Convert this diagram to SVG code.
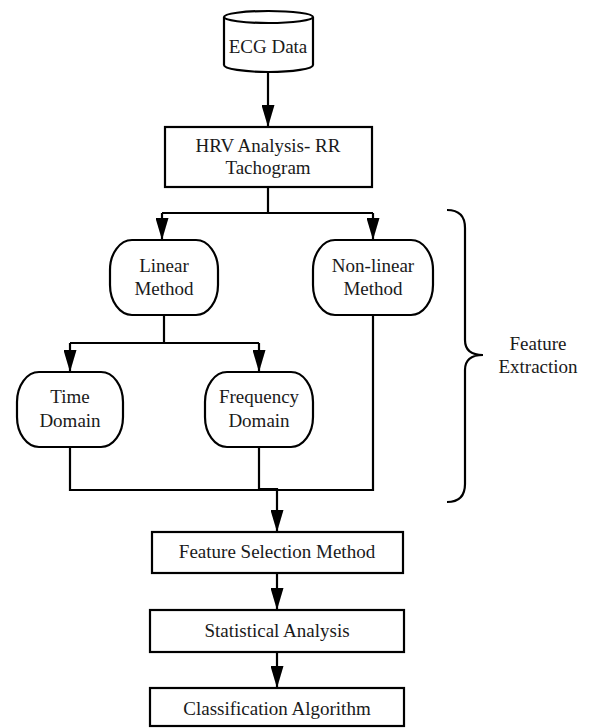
<svg xmlns="http://www.w3.org/2000/svg" width="592" height="728" viewBox="0 0 592 728">
<style>
.s{fill:#fff;stroke:#000;stroke-width:2.2}
.c{fill:none;stroke:#000;stroke-width:2.2}
text{font-family:"Liberation Serif","Times New Roman",serif;font-size:19px;fill:#1a1a1a;text-anchor:middle}
</style>
<defs>
<marker id="a" markerUnits="userSpaceOnUse" markerWidth="22" markerHeight="13" refX="22" refY="6.5" orient="auto" viewBox="0 0 22 13">
<path d="M0,0 L22,6.5 L0,13 Z" fill="#000"/>
</marker>
</defs>
<g id="connectors">
<path class="c" d="M268,72 V127" marker-end="url(#a)"/>
<path class="c" d="M268,187 V213 M162,213 H373"/>
<path class="c" d="M162,213 V240" marker-end="url(#a)"/>
<path class="c" d="M373,213 V240" marker-end="url(#a)"/>
<path class="c" d="M164,315 V343 M70,343 H259"/>
<path class="c" d="M70,343 V372" marker-end="url(#a)"/>
<path class="c" d="M259,343 V372" marker-end="url(#a)"/>
<path class="c" d="M70,447 V490 H259 M259,447 V490 M373,315 V490 H259"/>
<path class="c" d="M259,489 H277 V532" marker-end="url(#a)"/>
<path class="c" d="M277,573 V610" marker-end="url(#a)"/>
<path class="c" d="M277,652 V688" marker-end="url(#a)"/>
</g>
<g id="ecg">
<path class="s" d="M224,17 A44.5,6 0 0 1 313,17 V65 A44.5,7 0 0 1 224,65 Z"/>
<path class="c" d="M224,17 A44.5,6 0 0 0 313,17"/>
<text x="268" y="53">ECG Data</text>
</g>
<g id="hrv">
<rect class="s" x="165" y="127" width="207" height="60"/>
<text x="268" y="152">HRV Analysis- RR</text>
<text x="268" y="174">Tachogram</text>
</g>
<g id="linear">
<rect class="s" x="110" y="240" width="108" height="75" rx="22" ry="30"/>
<text x="164" y="272">Linear</text>
<text x="164" y="295">Method</text>
</g>
<g id="nonlinear">
<rect class="s" x="313" y="240" width="120" height="75" rx="22" ry="30"/>
<text x="373" y="272">Non-linear</text>
<text x="373" y="295">Method</text>
</g>
<g id="time">
<rect class="s" x="17" y="372" width="106" height="75" rx="22" ry="30"/>
<text x="70" y="403">Time</text>
<text x="70" y="427">Domain</text>
</g>
<g id="frequency">
<rect class="s" x="205" y="372" width="108" height="75" rx="22" ry="30"/>
<text x="259" y="403">Frequency</text>
<text x="259" y="427">Domain</text>
</g>
<g id="brace">
<path class="c" d="M447,210 Q465,210 465,228 V340 Q465,355 483,355 Q465,355 465,370 V484 Q465,502 447,502"/>
<text x="538" y="350">Feature</text>
<text x="538" y="373">Extraction</text>
</g>
<g id="selection">
<rect class="s" x="152" y="532" width="251" height="41"/>
<text x="277" y="558">Feature Selection Method</text>
</g>
<g id="statistical">
<rect class="s" x="150" y="610" width="254" height="42"/>
<text x="277" y="637">Statistical Analysis</text>
</g>
<g id="classification">
<rect class="s" x="150" y="688" width="254" height="38"/>
<text x="277" y="715">Classification Algorithm</text>
</g>
</svg>
